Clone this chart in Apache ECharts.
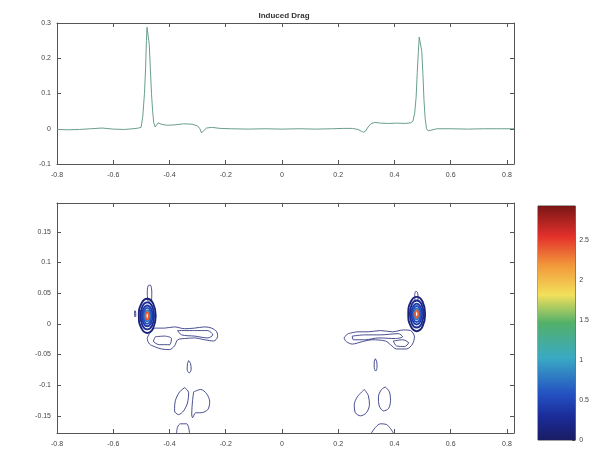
<!DOCTYPE html>
<html>
<head>
<meta charset="utf-8">
<script src="https://cdn.jsdelivr.net/npm/echarts@6/dist/echarts.min.js"></script>
<style>html,body{margin:0;padding:0;background:#fff}#c{width:592px;height:455px}</style>
</head>
<body>
<div id="c"></div>
<script>
// ---------- data ----------
const titleText = 'Induced Drag';
const xTicks = [-0.8, -0.6, -0.4, -0.2, 0, 0.2, 0.4, 0.6, 0.8];
const topYTicks = [-0.1, 0, 0.1, 0.2, 0.3];
const botYTicks = [-0.15, -0.1, -0.05, 0, 0.05, 0.1, 0.15];
const cbTicks = [0, 0.5, 1, 1.5, 2, 2.5];
const cbMax = 2.93;

const dragX = [-0.80,-0.76,-0.72,-0.68,-0.64,-0.60,-0.56,-0.53,-0.51,-0.501,-0.495,-0.489,-0.485,-0.482,-0.480,-0.476,-0.472,-0.468,-0.464,-0.460,-0.456,-0.451,-0.446,-0.44,-0.43,-0.41,-0.38,-0.35,-0.32,-0.30,-0.292,-0.286,-0.278,-0.268,-0.25,-0.22,-0.18,-0.12,-0.06,0,0.06,0.12,0.18,0.22,0.25,0.27,0.282,0.29,0.298,0.306,0.316,0.33,0.35,0.38,0.41,0.44,0.458,0.466,0.472,0.477,0.481,0.485,0.488,0.493,0.497,0.501,0.505,0.509,0.514,0.52,0.53,0.55,0.60,0.66,0.72,0.78,0.825];
const dragY = [-0.002,-0.003,-0.002,0.000,0.002,-0.001,-0.002,0.000,0.002,0.004,0.035,0.10,0.17,0.25,0.288,0.287,0.24,0.17,0.10,0.05,0.017,0.005,0.009,0.017,0.013,0.010,0.011,0.014,0.013,0.008,0.000,-0.012,-0.005,0.002,0.004,0.001,0.000,-0.001,0.000,-0.001,0.000,-0.001,0.000,0.001,0.001,-0.002,-0.007,-0.010,-0.006,0.005,0.014,0.018,0.016,0.015,0.016,0.015,0.017,0.022,0.045,0.09,0.16,0.22,0.26,0.258,0.22,0.157,0.08,0.03,0.000,-0.006,-0.004,0.000,0.000,-0.001,0.000,0.000,0.000];

// vortex-core contour rings (levels below)
const coreLevels = [0.12, 0.25, 0.4, 0.55, 0.75, 2.4];
const leftCoreRings = [
  [[-0.449,0.013],[-0.458,0.033],[-0.479,0.041],[-0.500,0.033],[-0.509,0.013],[-0.500,-0.007],[-0.479,-0.015],[-0.458,-0.007]],
  [[-0.455,0.013],[-0.462,0.029],[-0.479,0.035],[-0.496,0.029],[-0.503,0.013],[-0.496,-0.003],[-0.479,-0.009],[-0.462,-0.003]],
  [[-0.460,0.013],[-0.466,0.025],[-0.479,0.030],[-0.492,0.025],[-0.498,0.013],[-0.492,0.001],[-0.479,-0.004],[-0.466,0.001]],
  [[-0.465,0.013],[-0.469,0.022],[-0.479,0.026],[-0.489,0.022],[-0.493,0.013],[-0.489,0.004],[-0.479,0.000],[-0.469,0.004]],
  [[-0.469,0.013],[-0.472,0.019],[-0.479,0.022],[-0.486,0.019],[-0.489,0.013],[-0.486,0.007],[-0.479,0.004],[-0.472,0.007]],
  [[-0.473,0.013],[-0.475,0.017],[-0.479,0.019],[-0.483,0.017],[-0.485,0.013],[-0.483,0.009],[-0.479,0.007],[-0.475,0.009]]
];
const rightCoreRings = [
  [[0.509,0.016],[0.500,0.036],[0.479,0.044],[0.458,0.036],[0.449,0.016],[0.458,-0.004],[0.479,-0.012],[0.500,-0.004]],
  [[0.503,0.016],[0.496,0.032],[0.479,0.038],[0.462,0.032],[0.455,0.016],[0.462,0.000],[0.479,-0.006],[0.496,0.000]],
  [[0.498,0.016],[0.492,0.028],[0.479,0.033],[0.466,0.028],[0.460,0.016],[0.466,0.004],[0.479,-0.001],[0.492,0.004]],
  [[0.493,0.016],[0.489,0.025],[0.479,0.029],[0.469,0.025],[0.465,0.016],[0.469,0.007],[0.479,0.003],[0.489,0.007]],
  [[0.489,0.016],[0.486,0.022],[0.479,0.025],[0.472,0.022],[0.469,0.016],[0.472,0.010],[0.479,0.007],[0.486,0.010]],
  [[0.485,0.016],[0.483,0.020],[0.479,0.022],[0.475,0.020],[0.473,0.016],[0.475,0.012],[0.479,0.010],[0.483,0.012]]
];

// low-level (0.1) closed contours
const lowLevel = 0.1;
const lowLoops = [
  [[-0.477,0.037],[-0.479,0.050],[-0.476,0.062],[-0.468,0.063],[-0.463,0.052],[-0.465,0.037]],
  [[-0.524,0.021],[-0.521,0.021],[-0.520,0.012],[-0.524,0.012]],
  [[-0.454,-0.007],[-0.418,-0.007],[-0.382,-0.005],[-0.346,-0.008],[-0.311,-0.007],[-0.275,-0.005],[-0.250,-0.007],[-0.232,-0.013],[-0.229,-0.021],[-0.243,-0.028],[-0.275,-0.026],[-0.311,-0.023],[-0.346,-0.024],[-0.371,-0.026],[-0.382,-0.036],[-0.400,-0.042],[-0.429,-0.041],[-0.454,-0.037],[-0.471,-0.033],[-0.479,-0.024],[-0.471,-0.016]],
  [[-0.371,-0.011],[-0.311,-0.011],[-0.264,-0.011],[-0.246,-0.018],[-0.264,-0.023],[-0.311,-0.020],[-0.357,-0.018]],
  [[-0.450,-0.021],[-0.418,-0.020],[-0.393,-0.024],[-0.400,-0.034],[-0.436,-0.034],[-0.457,-0.028]],
  [[-0.332,-0.060],[-0.325,-0.065],[-0.323,-0.075],[-0.330,-0.080],[-0.337,-0.075],[-0.336,-0.065]],
  [[-0.346,-0.104],[-0.332,-0.112],[-0.336,-0.129],[-0.350,-0.142],[-0.368,-0.148],[-0.382,-0.142],[-0.379,-0.125],[-0.364,-0.111]],
  [[-0.314,-0.111],[-0.289,-0.107],[-0.268,-0.114],[-0.257,-0.127],[-0.264,-0.140],[-0.289,-0.145],[-0.307,-0.145],[-0.318,-0.153],[-0.321,-0.147],[-0.318,-0.125]],
  [[0.473,0.037],[0.472,0.048],[0.476,0.053],[0.482,0.051],[0.484,0.040]],
  [[0.236,-0.016],[0.271,-0.013],[0.307,-0.013],[0.350,-0.011],[0.393,-0.013],[0.432,-0.010],[0.457,-0.011],[0.471,-0.021],[0.464,-0.033],[0.443,-0.041],[0.407,-0.041],[0.386,-0.034],[0.368,-0.028],[0.321,-0.026],[0.286,-0.029],[0.250,-0.033],[0.229,-0.029],[0.221,-0.023]],
  [[0.250,-0.020],[0.296,-0.018],[0.350,-0.018],[0.414,-0.016],[0.429,-0.021],[0.404,-0.024],[0.343,-0.023],[0.296,-0.026],[0.254,-0.026]],
  [[0.396,-0.028],[0.429,-0.026],[0.450,-0.031],[0.436,-0.037],[0.407,-0.036]],
  [[0.332,-0.057],[0.337,-0.062],[0.338,-0.071],[0.333,-0.077],[0.328,-0.071],[0.328,-0.062]],
  [[0.293,-0.107],[0.307,-0.117],[0.311,-0.132],[0.300,-0.145],[0.279,-0.150],[0.261,-0.145],[0.257,-0.132],[0.268,-0.119]],
  [[0.368,-0.103],[0.382,-0.111],[0.386,-0.125],[0.379,-0.138],[0.361,-0.142],[0.346,-0.134],[0.343,-0.119],[0.354,-0.107]]
];
// open contours cut by the lower axis
const lowArcs = [
  [[-0.375,-0.178],[-0.371,-0.168],[-0.361,-0.163],[-0.339,-0.163],[-0.332,-0.169],[-0.329,-0.178]],
  [[0.318,-0.178],[0.332,-0.169],[0.350,-0.163],[0.371,-0.164],[0.386,-0.171],[0.396,-0.178]]
];

// ---------- colour map ----------
const jetStops = [[0,'#1a1d63'],[0.1,'#1b2b99'],[0.2,'#2453c2'],[0.35,'#3aa9c4'],[0.5,'#52b06a'],[0.62,'#f2e05a'],[0.75,'#f2963a'],[0.87,'#e3302b'],[1,'#7a1616']];
function hex2rgb(h){return [parseInt(h.substr(1,2),16),parseInt(h.substr(3,2),16),parseInt(h.substr(5,2),16)];}
function jet(v){
  const t=Math.max(0,Math.min(1,v/cbMax));
  for(let i=0;i<jetStops.length-1;i++){
    const a=jetStops[i],b=jetStops[i+1];
    if(t<=b[0]){
      const f=(t-a[0])/(b[0]-a[0]);const ca=hex2rgb(a[1]),cb=hex2rgb(b[1]);
      return 'rgb('+ca.map((c,k)=>Math.round(c+(cb[k]-c)*f)).join(',')+')';
    }
  }
  return jetStops[jetStops.length-1][1];
}

// ---------- chart ----------
const chart = echarts.init(document.getElementById('c'), null, {renderer:'canvas'});
const lab = {fontSize:7, color:'#444', fontFamily:'Liberation Sans, Arial, sans-serif'};
const axLine = {show:true, onZero:false, lineStyle:{color:'#555', width:1}};
const tick = {show:true, inside:true, length:4, lineStyle:{color:'#555'}};

function xAx(grid, pos, showLab, min, max){
  return {type:'value', gridIndex:grid, position:pos, min:min, max:max, splitLine:{show:false},
    axisLine:axLine, axisTick:Object.assign({customValues:xTicks}, tick),
    axisLabel:Object.assign({show:showLab, customValues:xTicks, margin:8}, lab)};
}
function yAx(grid, pos, showLab, min, max, ticks){
  return {type:'value', gridIndex:grid, position:pos, min:min, max:max, splitLine:{show:false},
    axisLine:axLine, axisTick:Object.assign({customValues:ticks}, tick),
    axisLabel:Object.assign({show:showLab, customValues:ticks, margin:6}, lab)};
}

const series = [];
series.push({type:'line', xAxisIndex:0, yAxisIndex:0, data:dragX.map((x,i)=>[x,dragY[i]]),
  showSymbol:false, lineStyle:{color:'#6a9e8e', width:1}, animation:false});

function addLoop(pts, level, closed, width, smooth){
  const d = pts.slice(); if(closed) d.push(pts[0]);
  series.push({type:'line', xAxisIndex:2, yAxisIndex:2, data:d, showSymbol:false, smooth:smooth,
    lineStyle:{color:jet(level), width:width}, animation:false, z:3});
}
lowLoops.forEach(p=>addLoop(p, lowLevel, true, 0.8, 0.3));
lowArcs.forEach(p=>addLoop(p, lowLevel, false, 0.8, 0.3));
leftCoreRings.forEach((p,i)=>addLoop(p, coreLevels[i], true, 1.9, true));
rightCoreRings.forEach((p,i)=>addLoop(p, coreLevels[i], true, 1.9, true));

// colour bar
series.push({type:'bar', xAxisIndex:4, yAxisIndex:4, data:[cbMax], barWidth:'100%', animation:false,
  itemStyle:{color:new echarts.graphic.LinearGradient(0,1,0,0, jetStops.map(s=>({offset:s[0], color:s[1]})))}});

chart.setOption({
  backgroundColor:'#fff',
  animation:false,
  title:{text:titleText, left:279, top:7, textAlign:'center',
    textStyle:{fontSize:8, fontWeight:'bold', color:'#333', fontFamily:'Liberation Sans, Arial, sans-serif'}},
  grid:[
    {left:57, right:78, top:23, bottom:291},
    {left:57, right:78, top:203, bottom:22},
    {left:538, right:11, top:206, bottom:15, show:true, borderColor:'#444', borderWidth:1, backgroundColor:'transparent'}
  ],
  xAxis:[
    xAx(0,'bottom',true,-0.8,0.825), xAx(0,'top',false,-0.8,0.825),
    xAx(1,'bottom',true,-0.8,0.825), xAx(1,'top',false,-0.8,0.825),
    {type:'category', gridIndex:2, data:['c'], show:false}
  ],
  yAxis:[
    yAx(0,'left',true,-0.1,0.3,topYTicks), yAx(0,'right',false,-0.1,0.3,topYTicks),
    yAx(1,'left',true,-0.178,0.197,botYTicks), yAx(1,'right',false,-0.178,0.197,botYTicks),
    {type:'value', gridIndex:2, position:'right', min:0, max:cbMax, splitLine:{show:false},
      axisLine:{show:false}, axisTick:{show:true, inside:true, length:3, customValues:cbTicks, lineStyle:{color:'#444'}},
      axisLabel:Object.assign({customValues:cbTicks, margin:4}, lab)}
  ],
  series:series
});
</script>
</body>
</html>
